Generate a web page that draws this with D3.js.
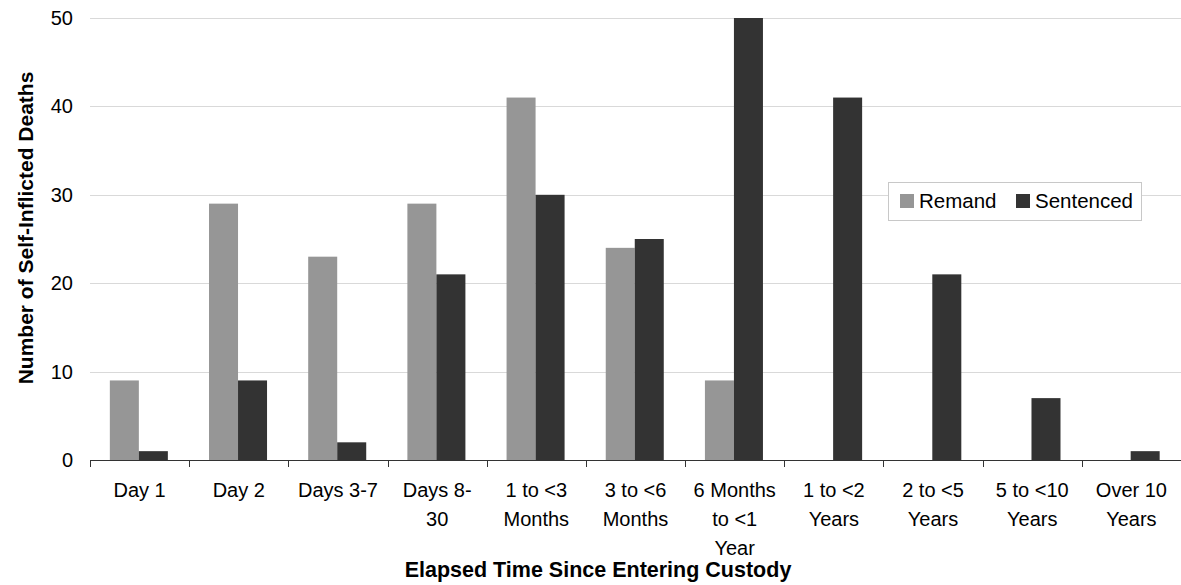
<!DOCTYPE html>
<html><head><meta charset="utf-8">
<script src="https://cdn.jsdelivr.net/npm/d3@7"></script>
<style>body{margin:0;background:#fff}svg{display:block}text{font-family:"Liberation Sans",Arial,sans-serif}</style>
</head><body>
<svg id="c" width="1181" height="585"></svg>
<script>
const categories = [["Day 1"],["Day 2"],["Days 3-7"],["Days 8-","30"],["1 to <3","Months"],["3 to <6","Months"],["6 Months","to <1","Year"],["1 to <2","Years"],["2 to <5","Years"],["5 to <10","Years"],["Over 10","Years"]];
const remand = [9,29,23,29,41,24,9,0,0,0,0];
const sentenced = [1,9,2,21,30,25,50,41,21,7,1];
const yTicks = [0,10,20,30,40,50];
const seriesNames = ["Remand","Sentenced"];
const colors = ["#969696","#333333"];

(function(){
const svg = d3.select("#c");
const mLeft = 90, mRight = 1181, mTop = 18, mBottom = 460;
const x = d3.scaleBand().domain(d3.range(categories.length)).range([mLeft,mRight]);
const y = d3.scaleLinear().domain([0,50]).range([mBottom,mTop]);
const bw = x.bandwidth();
const inner = d3.scaleBand().domain([0,1]).range([bw*0.2, bw*0.785]);

svg.append("g").selectAll("line").data(yTicks.filter(d=>d>0)).join("line")
  .attr("x1",mLeft).attr("x2",mRight).attr("y1",d=>Math.round(y(d))+0.5).attr("y2",d=>Math.round(y(d))+0.5)
  .attr("stroke","#d9d9d9").attr("stroke-width",1);

svg.append("g").selectAll("text").data(yTicks).join("text")
  .attr("x",73).attr("y",d=>y(d)+7).attr("text-anchor","end")
  .attr("font-size",20).attr("fill","#000").text(d=>d);

const series = [remand, sentenced];
series.forEach((vals,si)=>{
  svg.append("g").selectAll("rect").data(vals).join("rect")
    .attr("x",(d,i)=>x(i)+inner(si)).attr("width",inner.bandwidth())
    .attr("y",d=>y(d)).attr("height",d=>y(0)-y(d))
    .attr("fill",colors[si]);
});

svg.append("line").attr("x1",mLeft).attr("x2",mRight).attr("y1",y(0)+0.5).attr("y2",y(0)+0.5)
  .attr("stroke","#333").attr("stroke-width",1);
svg.append("g").selectAll("line").data(d3.range(categories.length)).join("line")
  .attr("x1",i=>Math.round(x(i))+0.5).attr("x2",i=>Math.round(x(i))+0.5)
  .attr("y1",y(0)).attr("y2",y(0)+7).attr("stroke","#333");

const lab = svg.append("g").selectAll("text").data(categories).join("text")
  .attr("text-anchor","middle").attr("font-size",20).attr("fill","#000")
  .attr("transform",(d,i)=>`translate(${x(i)+bw/2},0)`);
lab.selectAll("tspan").data(d=>d).join("tspan")
  .attr("x",0).attr("y",(d,j)=>497+j*29).text(d=>d);

svg.append("text").attr("x",598).attr("y",577).attr("text-anchor","middle")
  .attr("font-size",21.5).attr("font-weight","bold").text("Elapsed Time Since Entering Custody");
svg.append("text").attr("transform","translate(33,228) rotate(-90)").attr("text-anchor","middle")
  .attr("font-size",21).attr("font-weight","bold").text("Number of Self-Inflicted Deaths");

const lg = svg.append("g");
lg.append("rect").attr("x",888.5).attr("y",182.5).attr("width",253).attr("height",38)
  .attr("fill","#fff").attr("stroke","#c8c8c8");
const legX = [900,1016];
seriesNames.forEach((n,i)=>{
  lg.append("rect").attr("x",legX[i]).attr("y",194).attr("width",14).attr("height",14).attr("fill",colors[i]);
  lg.append("text").attr("x",legX[i]+19).attr("y",208).attr("font-size",20.5).text(n);
});
})();
</script>
</body></html>
